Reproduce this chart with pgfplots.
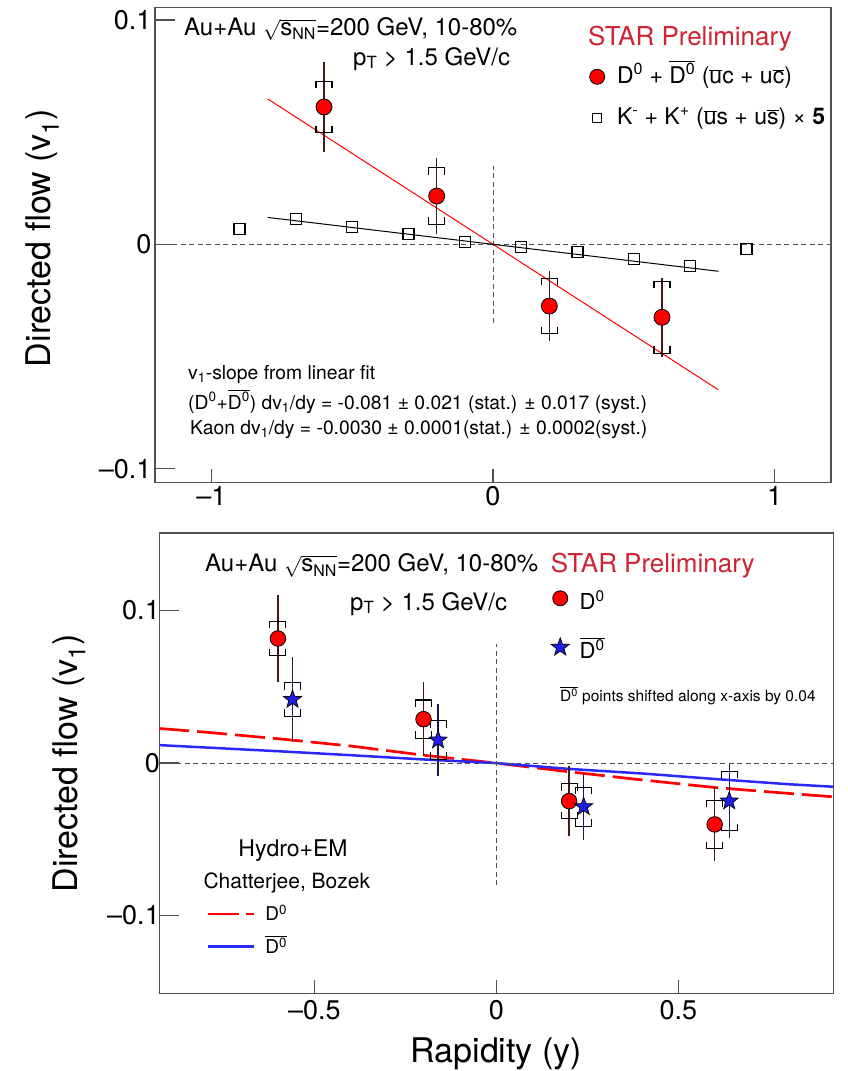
\documentclass[border=0pt]{standalone}
\usepackage{fontspec}
\setmainfont{TeX Gyre Heros}
\usepackage{pgfplots}
\pgfplotsset{compat=1.18}
\usepackage{pgfplotstable}
\definecolor{starred}{RGB}{205,35,50}
\definecolor{framegray}{RGB}{80,80,80}
\definecolor{errbrown}{RGB}{70,25,20}
\definecolor{errnavy}{RGB}{25,25,80}
\definecolor{mblue}{RGB}{30,30,230}
\definecolor{cblue}{RGB}{40,40,255}
\newcommand{\ob}[1]{\ensuremath{\overline{\hbox{#1}}}}
\newcommand{\fs}[1]{\fontsize{#1}{#1}\selectfont}
\newcommand{\snn}{{\fs{21.5}\(\sqrt{\hbox{\fs{24}s}_{\hbox{\fs{16}NN}}}\)}}
\pgfdeclareplotmark{systop}{%
  \pgfpathmoveto{\pgfqpoint{-8pt}{-7pt}}%
  \pgfpathlineto{\pgfqpoint{-8pt}{0pt}}%
  \pgfpathlineto{\pgfqpoint{8pt}{0pt}}%
  \pgfpathlineto{\pgfqpoint{8pt}{-7pt}}%
  \pgfusepathqstroke}
\pgfdeclareplotmark{sysbot}{%
  \pgfpathmoveto{\pgfqpoint{-8pt}{7pt}}%
  \pgfpathlineto{\pgfqpoint{-8pt}{0pt}}%
  \pgfpathlineto{\pgfqpoint{8pt}{0pt}}%
  \pgfpathlineto{\pgfqpoint{8pt}{7pt}}%
  \pgfusepathqstroke}
\pgfdeclareplotmark{fstar}{%
  \pgfpathmoveto{\pgfpointpolar{90}{9.5pt}}%
  \pgfpathlineto{\pgfpointpolar{126}{3.9pt}}%
  \pgfpathlineto{\pgfpointpolar{162}{9.5pt}}%
  \pgfpathlineto{\pgfpointpolar{198}{3.9pt}}%
  \pgfpathlineto{\pgfpointpolar{234}{9.5pt}}%
  \pgfpathlineto{\pgfpointpolar{270}{3.9pt}}%
  \pgfpathlineto{\pgfpointpolar{306}{9.5pt}}%
  \pgfpathlineto{\pgfpointpolar{342}{3.9pt}}%
  \pgfpathlineto{\pgfpointpolar{18}{9.5pt}}%
  \pgfpathlineto{\pgfpointpolar{54}{3.9pt}}%
  \pgfpathclose
  \pgfusepathqfillstroke}

% top panel: D0 + D0bar
\pgfplotstableread{
x y stat sys
-0.6 0.0612 0.0200 0.0114
-0.2 0.0215 0.0170 0.0126
0.2 -0.0275 0.0156 0.0124
0.6 -0.0325 0.0177 0.0160
}\topD
% top panel: kaons x5
\pgfplotstableread{
x y
-0.9 0.0067
-0.7 0.0113
-0.5 0.0076
-0.3 0.0048
-0.1 0.0010
0.1 -0.0010
0.3 -0.0035
0.5 -0.0066
0.7 -0.0098
0.9 -0.0022
}\topK
% bottom panel: D0
\pgfplotstableread{
x y stat sys
-0.6 0.0817 0.0288 0.0113
-0.2 0.0288 0.0243 0.0126
0.2 -0.0249 0.0227 0.0115
0.6 -0.0402 0.0243 0.0158
}\botD
% bottom panel: D0bar (shifted by 0.04)
\pgfplotstableread{
x y stat sys
-0.56 0.0417 0.0278 0.0110
-0.16 0.0151 0.0237 0.0126
0.24 -0.0286 0.0216 0.0129
0.64 -0.0249 0.0240 0.0195
}\botDb
% model curves
\pgfplotstableread{
x y
-0.926 0.0227
-0.8 0.0203
-0.6 0.0160
-0.4 0.0112
-0.2 0.0052
0 0
0.2 -0.0057
0.4 -0.0110
0.6 -0.0160
0.8 -0.0198
0.926 -0.0221
}\modelD
\pgfplotstableread{
x y
-0.926 0.0118
-0.6 0.0078
-0.4 0.0052
-0.2 0.0024
0 0
0.2 -0.0038
0.4 -0.0068
0.6 -0.0104
0.8 -0.0138
0.926 -0.0155
}\modelDb

\pgfplotsset{
  panel/.style={
    scale only axis,
    axis line style={line width=1.4pt, framegray},
    tick style={line width=1.3pt, framegray},
    tick align=inside, tick pos=left,
    major tick length=20pt,
    xtick style={/pgfplots/major tick length=13.5pt},
    tick label style={font=\fs{27}},
    /pgf/number format/assume math mode=true,
    legend cell align=left,
  },
  zerodash/.style={forget plot, framegray, line width=1pt, dash pattern=on 5pt off 3.5pt},
  markleg/.style={legend image code/.code={\path (-9pt,0pt) (9pt,0pt); \draw[##1] plot coordinates {(0pt,0pt)};}},
}

\begin{document}
\begin{tikzpicture}
\useasboundingbox (0pt,0pt) rectangle (847pt,-1071pt);

% ================= TOP PANEL =================
\begin{axis}[panel,
  at={(155pt,-482.7pt)}, anchor=south west, width=676pt, height=475.4pt,
  xmin=-1.2, xmax=1.2, ymin=-0.1062, ymax=0.1056,
  xtick={-1,0,1}, xticklabels={--1,0,1},
  ytick={-0.1,0,0.1}, yticklabels={--0.1,0,0.1},
  ylabel={Directed flow (v\textsubscript{1})},
  every axis y label/.style={at={(axis description cs:-0.1543,0.5147)}, anchor=base, rotate=90, font=\fs{34}},
  markleg,
  legend style={draw=none, fill=none, inner sep=0pt, outer sep=0pt,
    at={(axis description cs:0.6405,0.8696)}, anchor=north west,
    row sep=26.6pt, column sep=10.7pt, font=\fs{23},
    nodes={inner sep=0pt, text height=13.4pt, text depth=0pt}},
]
\addplot[zerodash] coordinates {(-1.2,0) (1.2,0)};
\addplot[zerodash] coordinates {(0,-0.035) (0,0.035)};
\addplot[forget plot, red, line width=1pt] coordinates {(-0.8,0.0648) (0.8,-0.0648)};
\addplot[forget plot, black, line width=1pt] coordinates {(-0.8,0.012) (0.8,-0.012)};
\addplot[forget plot, only marks, mark=square, mark size=5.5pt,
  mark options={draw=black, line width=1.1pt, fill=white}] table[x=x, y=y] {\topK};
\addplot[forget plot, only marks, mark=systop, mark options={draw=black, line width=1.1pt}]
  table[x=x, y expr=\thisrow{y}+\thisrow{sys}] {\topD};
\addplot[forget plot, only marks, mark=sysbot, mark options={draw=black, line width=1.1pt}]
  table[x=x, y expr=\thisrow{y}-\thisrow{sys}] {\topD};
\addplot[forget plot, only marks, mark=*, mark size=8pt,
  mark options={fill=red, draw=black, line width=0.8pt},
  error bars/.cd, y dir=both, y explicit, error mark=none,
  error bar style={line width=1.4pt, errbrown}]
  table[x=x, y=y, y error=stat] {\topD};
\addlegendimage{only marks, mark=*, mark size=7.5pt, mark options={fill=red, draw=black, line width=0.8pt}}
\addlegendentry{D\textsuperscript{0} + \ob{D\textsuperscript{0}} (\ob{u}c + u\ob{c})}
\addlegendimage{only marks, mark=square, mark size=4.5pt, mark options={draw=black, line width=1pt, fill=white}}
\addlegendentry{K\textsuperscript{-} + K\textsuperscript{+} (\ob{u}s + u\ob{s}) × \textbf{5}}
\end{axis}

% ================= BOTTOM PANEL =================
\begin{axis}[panel,
  at={(159.3pt,-993.4pt)}, anchor=south west, width=674pt, height=460.6pt,
  xmin=-0.926, xmax=0.926, ymin=-0.151, ymax=0.151,
  xtick={-0.5,0,0.5}, xticklabels={--0.5,0,0.5},
  ytick={-0.1,0,0.1}, yticklabels={--0.1,0,0.1},
  xticklabel style={yshift=-3pt},
  yticklabel style={xshift=4pt},
  ylabel={Directed flow (v\textsubscript{1})},
  every axis y label/.style={at={(axis description cs:-0.1221,0.5)}, anchor=base, rotate=90, font=\fs{34}},
  xlabel={Rapidity (y)},
  every axis x label/.style={at={(axis description cs:0.5,-0.149)}, anchor=base, font=\fs{34}},
  markleg,
  legend style={draw=none, fill=none, inner sep=0pt, outer sep=0pt,
    at={(axis description cs:0.5812,0.8817)}, anchor=north west,
    row sep=27pt, column sep=10.3pt, font=\fs{22},
    nodes={inner sep=0pt, text height=22pt, text depth=0pt}},
]
\addplot[forget plot, red, line width=2.7pt, dash pattern=on 30pt off 8pt] table[x=x, y=y] {\modelD};
\addplot[forget plot, cblue, line width=2.5pt] table[x=x, y=y] {\modelDb};
\addplot[zerodash] coordinates {(-0.926,0) (0.926,0)};
\addplot[zerodash] coordinates {(0,-0.08) (0,0.0784)};
\addplot[forget plot, only marks, mark=systop, mark options={draw=black, line width=1.1pt}]
  table[x=x, y expr=\thisrow{y}+\thisrow{sys}] {\botD};
\addplot[forget plot, only marks, mark=sysbot, mark options={draw=black, line width=1.1pt}]
  table[x=x, y expr=\thisrow{y}-\thisrow{sys}] {\botD};
\addplot[forget plot, only marks, mark=systop, mark options={draw=black, line width=1.1pt}]
  table[x=x, y expr=\thisrow{y}+\thisrow{sys}] {\botDb};
\addplot[forget plot, only marks, mark=sysbot, mark options={draw=black, line width=1.1pt}]
  table[x=x, y expr=\thisrow{y}-\thisrow{sys}] {\botDb};
\addplot[forget plot, only marks, mark=*, mark size=7.8pt,
  mark options={fill=red, draw=black, line width=0.8pt},
  error bars/.cd, y dir=both, y explicit, error mark=none,
  error bar style={line width=1.4pt, errbrown}]
  table[x=x, y=y, y error=stat] {\botD};
\addplot[forget plot, only marks, mark=fstar,
  mark options={fill=mblue, draw=black, line width=0.7pt},
  error bars/.cd, y dir=both, y explicit, error mark=none,
  error bar style={line width=1.4pt, errnavy}]
  table[x=x, y=y, y error=stat] {\botDb};
\addlegendimage{only marks, mark=*, mark size=7.5pt, mark options={fill=red, draw=black, line width=0.8pt}}
\addlegendentry{D\textsuperscript{0}}
\addlegendimage{only marks, mark=fstar, mark options={fill=mblue, draw=black, line width=0.7pt}}
\addlegendentry{\ob{D\textsuperscript{0}}}
\end{axis}

% overlay axis for the model legend
\begin{axis}[scale only axis, hide axis,
  at={(159.3pt,-993.4pt)}, anchor=south west, width=674pt, height=460.6pt,
  xmin=-0.926, xmax=0.926, ymin=-0.151, ymax=0.151,
  legend cell align=left,
  legend image code/.code={\draw[#1] (0pt,0pt) -- (46pt,0pt);},
  legend style={draw=none, fill=none, inner sep=0pt, outer sep=0pt,
    at={(axis description cs:0.0708,0.1876)}, anchor=north west,
    row sep=18.7pt, column sep=9.7pt, font=\fs{19},
    nodes={inner sep=0pt, text height=14pt, text depth=0pt}},
]
\addplot[draw=none, forget plot] coordinates {(0,0)};
\addlegendimage{red, line width=2.7pt, dash pattern=on 31pt off 7pt}
\addlegendentry{D\textsuperscript{0}}
\addlegendimage{cblue, line width=2.5pt}
\addlegendentry{\ob{D\textsuperscript{0}}}
\end{axis}

% ---- text, top panel ----
\node[anchor=base west, inner sep=0pt, font=\fs{24}] at (184pt,-35pt)
  {Au+Au \snn=200 GeV, 10-80\%};
\node[anchor=base west, inner sep=0pt, font=\fs{24}] at (353pt,-65pt)
  {p\textsubscript{T} > 1.5 GeV/c};
\node[anchor=base west, inner sep=0pt, font=\fs{26}, text=starred] at (588pt,-45pt)
  {STAR Preliminary};
\node[anchor=base west, inner sep=0pt, font=\fs{19.3}] at (188pt,-379pt)
  {v\textsubscript{1}-slope from linear fit};
\node[anchor=base west, inner sep=0pt, font=\fs{19.3}] at (188pt,-409pt)
  {(D\textsuperscript{0}+\ob{D\textsuperscript{0}}) dv\textsubscript{1}/dy = -0.081 ± 0.021 (stat.) ± 0.017 (syst.)};
\node[anchor=base west, inner sep=0pt, font=\fs{19.3}] at (190pt,-434pt)
  {Kaon dv\textsubscript{1}/dy = -0.0030 ± 0.0001(stat.) ± 0.0002(syst.)};

% ---- text, bottom panel ----
\node[anchor=base west, inner sep=0pt, font=\fs{24}] at (205pt,-571.7pt)
  {Au+Au \snn=200 GeV, 10-80\%};
\node[anchor=base west, inner sep=0pt, font=\fs{24}] at (350pt,-610pt)
  {p\textsubscript{T} > 1.5 GeV/c};
\node[anchor=base west, inner sep=0pt, font=\fs{26}, text=starred] at (550.7pt,-572.7pt)
  {STAR Preliminary};
\node[anchor=base west, inner sep=0pt, font=\fs{15.5}] at (560pt,-701.7pt)
  {\ob{D\textsuperscript{0}} points shifted along x-axis by 0.04};
\node[anchor=base, inner sep=0pt, font=\fs{23}] at (293pt,-856.7pt) {Hydro+EM};
\node[anchor=base west, inner sep=0pt, font=\fs{21}] at (203.3pt,-888.3pt) {Chatterjee, Bozek};
\end{tikzpicture}
\end{document}
